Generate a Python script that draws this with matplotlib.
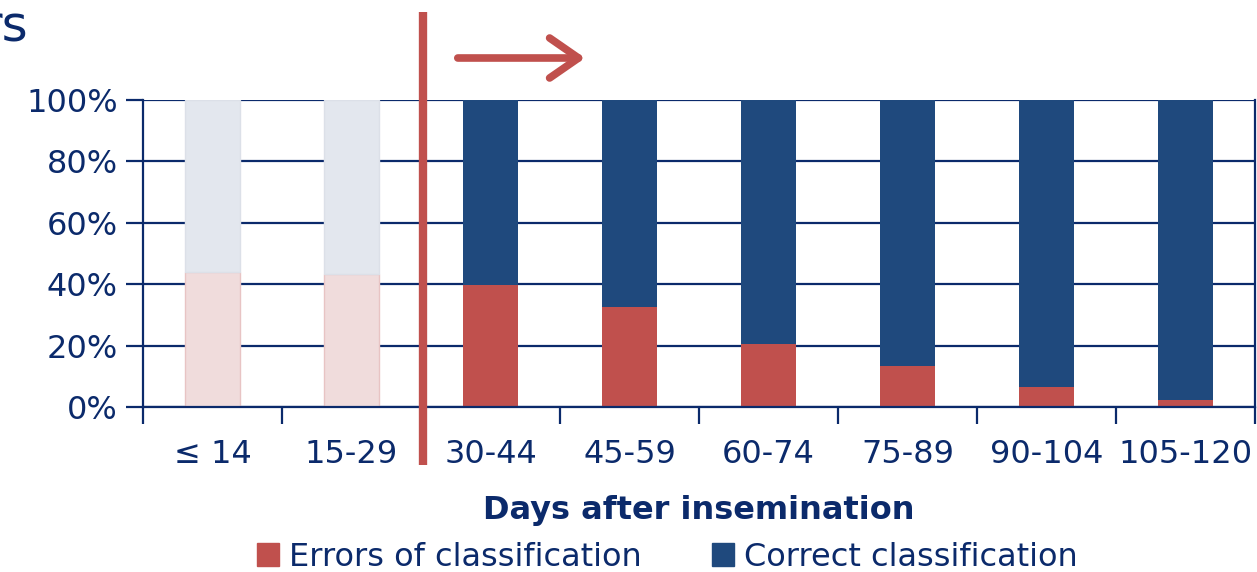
import matplotlib
matplotlib.use("Agg")
import matplotlib.pyplot as plt
from matplotlib.patches import FancyArrowPatch
from matplotlib.lines import Line2D
import matplotlib.patches as mpatches

categories = ["≤ 14", "15-29", "30-44", "45-59", "60-74", "75-89", "90-104", "105-120"]
errors = [44, 43.3, 39.7, 32.6, 20.5, 13.2, 6.6, 2.2]
correct = [100 - e for e in errors]
faded = [True, True, False, False, False, False, False, False]

RED = "#C0504D"
NAVY = "#1F497D"
TXT = "#0B2A6B"
W, H = 1257, 572

fig = plt.figure(figsize=(W / 100, H / 100), dpi=100)
ax = fig.add_axes([143 / W, 1 - 407 / H, (1255 - 143) / W, (407 - 100) / H])

x = list(range(len(categories)))
for i in x:
    if faded[i]:
        ax.bar(i, errors[i], width=0.4, color="#F0DCDC", edgecolor="#E8C4C4", linewidth=1, zorder=3)
        ax.bar(i, correct[i], bottom=errors[i], width=0.4, color="#E3E7EE", edgecolor="#DCE0E8", linewidth=1, zorder=3)
    else:
        ax.bar(i, errors[i], width=0.4, color=RED, zorder=3)
        ax.bar(i, correct[i], bottom=errors[i], width=0.4, color=NAVY, zorder=3)

ax.set_xlim(-0.5, len(categories) - 0.5)
ax.set_ylim(0, 100)
ax.set_yticks([0, 20, 40, 60, 80, 100])
ax.set_yticklabels([f"{v}%" for v in [0, 20, 40, 60, 80, 100]])
ax.yaxis.grid(True, color=TXT, linewidth=1.6, zorder=2)
ax.set_axisbelow(False)
ax.set_xticks(x)
ax.set_xticklabels(categories)
ax.set_xticks([i - 0.5 for i in range(len(categories) + 1)], minor=True)
ax.tick_params(axis="x", which="major", length=0, pad=23, labelsize=23, labelcolor=TXT)
ax.tick_params(axis="x", which="minor", length=12, width=1.6, color=TXT)
ax.tick_params(axis="y", length=12, width=1.6, color=TXT, labelsize=23, labelcolor=TXT, pad=6)
for s in ["left", "bottom", "right"]:
    ax.spines[s].set_color(TXT)
    ax.spines[s].set_linewidth(1.6)
    ax.spines[s].set_zorder(4)
ax.spines["top"].set_visible(False)

ax.set_xlabel("Days after insemination", fontsize=23, fontweight="bold", color=TXT, labelpad=18)

# vertical separator line and arrow (figure coords)
fig.add_artist(Line2D([423 / W, 423 / W], [1 - 12 / H, 1 - 465 / H], color=RED, linewidth=6,
                      solid_capstyle="butt", zorder=10))
arr = FancyArrowPatch((455 / W, 1 - 58 / H), (588 / W, 1 - 58 / H), transform=fig.transFigure,
                      arrowstyle="->,head_length=13,head_width=9", color=RED, linewidth=5.5,
                      capstyle="round", joinstyle="round", mutation_scale=1.6, zorder=10)
fig.add_artist(arr)

fig.text(28 / W, 1 - 28 / H, "rs", ha="right", va="center", fontsize=36, color=TXT)

handles = [mpatches.Patch(color=RED, label="Errors of classification"),
           mpatches.Patch(color=NAVY, label="Correct classification")]
fig.legend(handles=handles, loc="center", bbox_to_anchor=(667 / W, 1 - 557 / H), ncol=2, frameon=False,
           fontsize=23, labelcolor=TXT, handlelength=0.7, handleheight=0.7, handletextpad=0.3,
           columnspacing=2.2, borderpad=0)

fig.savefig("out.png", dpi=100)
